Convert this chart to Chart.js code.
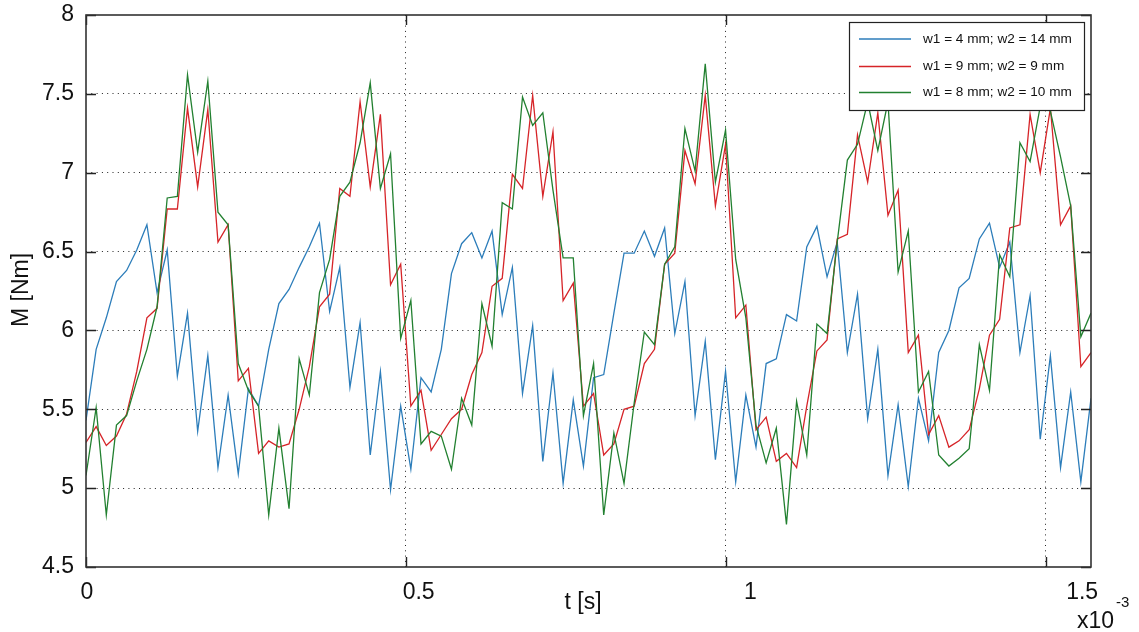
<!DOCTYPE html>
<html>
<head>
<meta charset="utf-8">
<title>M(t)</title>
<script src="https://cdn.jsdelivr.net/npm/chart.js@4.4.1/dist/chart.umd.min.js"></script>
<style>
  html, body { margin: 0; padding: 0; background: #ffffff; }
  #wrap { width: 1139px; height: 632px; position: relative; }
  canvas { display: block; }
</style>
</head>
<body>
<div id="wrap"><canvas id="chart" width="1139" height="632"></canvas></div>
<script>
// Sampling step of the simulation, in units of 1e-3 s
const sampleStep = 0.015862;

// Series labels
const seriesLabels = [
  'w1 = 4 mm; w2 = 14 mm',
  'w1 = 9 mm; w2 = 9 mm',
  'w1 = 8 mm; w2 = 10 mm'
];

// Torque M [Nm], one value per sample
const mW4_14 = [
  5.43, 5.88, 6.08, 6.31, 6.38, 6.51, 6.67, 6.24, 6.51, 5.71,
  6.11, 5.36, 5.84, 5.13, 5.59, 5.09, 5.63, 5.52, 5.88, 6.17,
  6.26, 6.40, 6.53, 6.68, 6.12, 6.40, 5.64, 6.05, 5.21, 5.74,
  4.99, 5.52, 5.12, 5.70, 5.61, 5.88, 6.36, 6.55, 6.62, 6.46,
  6.63, 6.10, 6.40, 5.60, 6.03, 5.17, 5.73, 5.03, 5.56, 5.14,
  5.70, 5.72, 6.11, 6.49, 6.49, 6.63, 6.47, 6.65, 5.98, 6.31,
  5.46, 5.93, 5.18, 5.74, 5.04, 5.59, 5.26, 5.79, 5.82, 6.10,
  6.06, 6.53, 6.66, 6.34, 6.56, 5.86, 6.23, 5.44, 5.88, 5.08,
  5.53, 5.01, 5.57, 5.30, 5.86, 6.00, 6.27, 6.33, 6.58, 6.68,
  6.40, 6.56, 5.86, 6.22, 5.31, 5.84, 5.13, 5.61, 5.04, 5.57
];
const mW9_9 = [
  5.29, 5.39, 5.27, 5.33, 5.47, 5.74, 6.08, 6.14, 6.77, 6.77,
  7.41, 6.91, 7.40, 6.56, 6.67, 5.68, 5.76, 5.22, 5.30, 5.26,
  5.28, 5.50, 5.77, 6.15, 6.23, 6.90, 6.85, 7.45, 6.91, 7.37,
  6.29, 6.42, 5.52, 5.62, 5.24, 5.34, 5.44, 5.50, 5.72, 5.86,
  6.28, 6.33, 6.99, 6.90, 7.49, 6.85, 7.26, 6.19, 6.30, 5.52,
  5.60, 5.21, 5.28, 5.50, 5.52, 5.79, 5.88, 6.42, 6.49, 7.14,
  6.93, 7.49, 6.79, 7.18, 6.08, 6.16, 5.37, 5.45, 5.17, 5.22,
  5.13, 5.52, 5.87, 5.94, 6.58, 6.61, 7.24, 6.94, 7.38, 6.73,
  6.89, 5.86, 5.97, 5.34, 5.46, 5.26, 5.30, 5.37, 5.63, 5.97,
  6.07, 6.65, 6.67, 7.37, 7.00, 7.41, 6.67, 6.79, 5.77, 5.86
];
const mW8_10 = [
  5.08, 5.51, 4.83, 5.40, 5.46, 5.68, 5.88, 6.15, 6.84, 6.85,
  7.62, 7.13, 7.58, 6.75, 6.67, 5.79, 5.62, 5.52, 4.83, 5.38,
  4.87, 5.82, 5.59, 6.24, 6.45, 6.85, 6.94, 7.19, 7.57, 6.90,
  7.12, 5.95, 6.19, 5.28, 5.36, 5.33, 5.12, 5.57, 5.40, 6.17,
  5.90, 6.81, 6.77, 7.48, 7.30, 7.38, 6.89, 6.46, 6.46, 5.46,
  5.79, 4.83, 5.35, 5.03, 5.54, 5.99, 5.91, 6.42, 6.53, 7.28,
  7.01, 7.69, 6.94, 7.27, 6.45, 6.08, 5.40, 5.16, 5.38, 4.77,
  5.55, 5.21, 6.04, 5.98, 6.56, 7.08, 7.18, 7.45, 7.14, 7.45,
  6.37, 6.63, 5.61, 5.74, 5.21, 5.14, 5.19, 5.25, 5.91, 5.62,
  6.48, 6.34, 7.19, 7.07, 7.42, 7.39, 7.10, 6.79, 5.96, 6.11
];

// Axis ticks
const xTickValues = [0, 0.5, 1, 1.5];
const yTickValues = [4.5, 5, 5.5, 6, 6.5, 7, 7.5, 8];

// Sample instants (x 1e-3 s)
const timeMs = mW4_14.map((_, i) => i * sampleStep);
const toPoints = arr => arr.map((m, i) => ({ x: timeMs[i], y: m }));

const lineColors = ['rgb(44,125,186)', 'rgb(214,36,40)', 'rgb(34,128,48)'];
const FONT = '"Liberation Sans", Arial, Helvetica, sans-serif';
const INK = '#111111';

// Frame, inward ticks, legend and axis captions
const framePlugin = {
  id: 'frame',
  afterDatasetsDraw(chart) {
    const { ctx, chartArea: a, scales } = chart;
    ctx.save();
    // inward tick marks on all four sides
    ctx.strokeStyle = '#222';
    ctx.lineWidth = 1.4;
    ctx.setLineDash([]);
    const tl = 10;
    yTickValues.forEach(v => {
      const y = Math.round(scales.y.getPixelForValue(v)) + 0.5;
      ctx.beginPath();
      ctx.moveTo(a.left, y); ctx.lineTo(a.left + tl, y);
      ctx.moveTo(a.right, y); ctx.lineTo(a.right - tl, y);
      ctx.stroke();
    });
    xTickValues.forEach(v => {
      const x = Math.round(scales.x.getPixelForValue(v)) + 0.5;
      ctx.beginPath();
      ctx.moveTo(x, a.bottom); ctx.lineTo(x, a.bottom - tl);
      ctx.moveTo(x, a.top); ctx.lineTo(x, a.top + tl);
      ctx.stroke();
    });
    // axes box
    ctx.strokeStyle = '#333';
    ctx.lineWidth = 1.6;
    ctx.strokeRect(a.left, a.top, a.right - a.left, a.bottom - a.top);

    // legend box in the upper right corner of the plot
    const lw = 235, lh = 88;
    const lx = a.right - 7 - lw, ly = a.top + 7;
    ctx.fillStyle = '#ffffff';
    ctx.fillRect(lx, ly, lw, lh);
    ctx.strokeStyle = '#222';
    ctx.lineWidth = 1.2;
    ctx.strokeRect(lx + 0.5, ly + 0.5, lw, lh);
    ctx.font = '13.6px ' + FONT;
    ctx.textBaseline = 'middle';
    ctx.textAlign = 'left';
    const rows = [17, 44.5, 70.5];
    chart.data.datasets.forEach((ds, i) => {
      const yy = ly + rows[i];
      ctx.strokeStyle = ds.borderColor;
      ctx.lineWidth = 1.3;
      ctx.beginPath();
      ctx.moveTo(lx + 10, yy); ctx.lineTo(lx + 62, yy);
      ctx.stroke();
      ctx.fillStyle = INK;
      ctx.fillText(ds.label, lx + 74, yy);
    });

    // axis captions
    ctx.fillStyle = INK;
    ctx.font = '23px ' + FONT;
    ctx.textAlign = 'center';
    ctx.textBaseline = 'middle';
    ctx.fillText('t [s]', 583, 603);
    ctx.save();
    ctx.translate(22, 290);
    ctx.rotate(-Math.PI / 2);
    ctx.fillText('M [Nm]', 0, 0);
    ctx.restore();
    ctx.textAlign = 'left';
    ctx.textBaseline = 'alphabetic';
    ctx.fillText('x10', 1077, 628);
    ctx.font = '15px ' + FONT;
    ctx.fillText('-3', 1116, 607);
    ctx.restore();
  }
};

const gridStyle = {
  display: true,
  drawOnChartArea: true,
  drawTicks: false,
  color: ctx => (ctx.tick && (ctx.tick.value === 4.5 || ctx.tick.value === 8 || ctx.tick.value === 0)) ? 'rgba(0,0,0,0)' : '#222',
  lineWidth: 1
};

new Chart(document.getElementById('chart'), {
  type: 'line',
  data: {
    datasets: [
      { label: seriesLabels[0], data: toPoints(mW4_14), borderColor: lineColors[0], order: 3 },
      { label: seriesLabels[1], data: toPoints(mW9_9), borderColor: lineColors[1], order: 2 },
      { label: seriesLabels[2], data: toPoints(mW8_10), borderColor: lineColors[2], order: 1 }
    ]
  },
  options: {
    responsive: false,
    devicePixelRatio: 1,
    animation: false,
    events: [],
    layout: { padding: { left: 0, top: 15, right: 48, bottom: 0 } },
    elements: {
      line: { borderWidth: 1.3, tension: 0, fill: false },
      point: { radius: 0 }
    },
    plugins: { legend: { display: false }, tooltip: { enabled: false } },
    scales: {
      x: {
        type: 'linear',
        position: 'bottom',
        min: 0,
        max: 99 * sampleStep,
        afterBuildTicks: s => { s.ticks = xTickValues.map(v => ({ value: v })); },
        afterFit: s => { s.height = 0; s.paddingLeft = 0; s.paddingRight = 0; },
        ticks: { display: false },
        grid: gridStyle,
        border: { display: false, dash: [1, 4.3] }
      },
      xl: {
        type: 'linear',
        position: 'bottom',
        min: -0.0014,
        max: 1.5133,
        afterBuildTicks: s => { s.ticks = xTickValues.map(v => ({ value: v })); },
        afterFit: s => { s.height = 65; s.paddingLeft = 0; s.paddingRight = 0; },
        grid: { display: false },
        border: { display: false },
        ticks: {
          color: INK,
          padding: 4,
          maxRotation: 0,
          font: { family: FONT, size: 23 },
          callback: v => String(v)
        }
      },
      y: {
        type: 'linear',
        min: 4.5,
        max: 8,
        afterBuildTicks: s => { s.ticks = yTickValues.map(v => ({ value: v })); },
        afterFit: s => { s.width = 86; s.paddingTop = 0; s.paddingBottom = 0; },
        grid: gridStyle,
        border: { display: false, dash: [1, 4.3] },
        ticks: {
          color: INK,
          padding: 12,
          font: { family: FONT, size: 23 },
          callback: v => String(v)
        }
      }
    }
  },
  plugins: [framePlugin]
});
</script>
</body>
</html>
